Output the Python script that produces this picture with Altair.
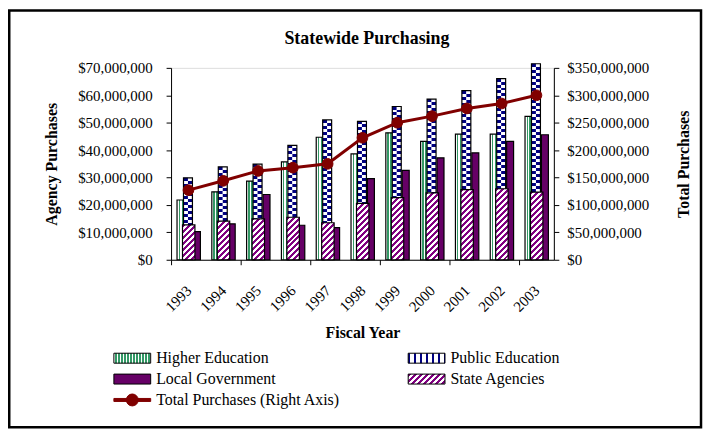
import json
import altair as alt

# ---------------- data (millions of dollars) ----------------
years = [1993, 1994, 1995, 1996, 1997, 1998, 1999, 2000, 2001, 2002, 2003]
higher_education = [21.8, 24.8, 28.7, 35.7, 44.7, 38.6, 46.3, 43.2, 45.8, 45.8, 52.3]
public_education = [29.9, 33.9, 34.9, 41.7, 51.0, 50.5, 55.9, 58.6, 61.7, 66.1, 71.5]
local_government = [10.3, 13.1, 23.8, 12.6, 11.7, 29.6, 32.6, 37.2, 39.0, 43.2, 45.6]
state_agencies = [12.7, 14.1, 14.9, 15.5, 13.5, 20.6, 22.7, 24.4, 25.6, 25.9, 24.7]
total_purchases = [127, 144, 162, 168, 175, 222.5, 250, 262, 276, 285, 300]
left_ticks = [0, 10, 20, 30, 40, 50, 60, 70]
right_ticks = [0, 50, 100, 150, 200, 250, 300, 350]
bar_series = ["Higher Education", "Public Education", "Local Government", "State Agencies"]
line_series = "Total Purchases (Right Axis)"

M = 1e6
FONT = "Liberation Serif"
W, H = 385, 193
GREEN, NAVY, PURPLE, HATCH, LINE = "#339966", "#000080", "#660066", "#800080", "#800000"


# ---------------- pattern helpers (linear gradients with hard stops) ----------------
def stripe_stops(length, pattern):
    stops, pos, i = [], 0.0, 0
    while pos < length - 1e-9:
        color, seg = pattern[i % len(pattern)]
        end = min(pos + seg, length)
        stops.append({"offset": round(pos / length, 5), "color": color})
        stops.append({"offset": round(end / length, 5), "color": color})
        pos, i = end, i + 1
    return stops


def linear(x1, y1, x2, y2, stops):
    return {"gradient": "linear", "x1": x1, "y1": y1, "x2": x2, "y2": y2, "stops": stops}


def vstripes(w, pattern):
    return linear(0, 0.5, 1, 0.5, stripe_stops(w, pattern))


def hstripes(h, pattern):
    return linear(0.5, 0, 0.5, 1, stripe_stops(h, pattern))


def diag(w, h, pattern):
    k = w * (w + h) / (w * w + h * h)
    return linear(0, 0, round(k, 5), round(k * h / w, 5), stripe_stops(w + h, pattern))


def px_h(v):
    return max(v / 70 * H, 1)


def gexpr(g):
    return {"expr": json.dumps(g)}


GREEN_PAT = [("white", 1.5), (GREEN, 1.5)]
HATCH_PAT = [(HATCH, 3), ("white", 3)]

bar_rows = []
for i, yr in enumerate(years):
    bar_rows.append({"year": yr, "series": "Higher Education", "value": higher_education[i] * M,
                     "pa": vstripes(8, GREEN_PAT)})
    h = px_h(public_education[i])
    bar_rows.append({"year": yr, "series": "Public Education", "value": public_education[i] * M,
                     "pa": hstripes(h, [(NAVY, 3), ("white", 3)]),
                     "pb": hstripes(h, [("white", 3), (NAVY, 3)])})
    bar_rows.append({"year": yr, "series": "Local Government", "value": local_government[i] * M})
    h = px_h(state_agencies[i])
    bar_rows.append({"year": yr, "series": "State Agencies", "value": state_agencies[i] * M,
                     "pa": diag(12.5, h, HATCH_PAT)})

line_rows = [{"year": yr, "series": line_series, "total": total_purchases[i] * M}
             for i, yr in enumerate(years)]

# ---------------- legends ----------------
LW, LH = 37, 10
color_range = [
    gexpr(vstripes(LW, GREEN_PAT)),
    gexpr(vstripes(LW, [(NAVY, 2), ("white", 4)])),
    PURPLE,
    gexpr(diag(LW, LH, HATCH_PAT)),
]
rect_path = "M-3.7,-1H3.7V1H-3.7Z"
line_path = "M-3.7,-0.3H3.7V0.3H-3.7Z M1.2,0A1.2,1.2 0 1,1 -1.2,0A1.2,1.2 0 1,1 1.2,0Z"

common_legend = dict(
    title=None, orient="none", legendX=-60,
    symbolSize=100, symbolStrokeWidth=1, symbolOffset=13, labelOffset=16,
    labelFont=FONT, labelFontSize=16, labelColor="black", symbolOpacity=1, labelLimit=400,
)
bar_legend = alt.Legend(legendY=284, columns=2, direction="horizontal", columnPadding=130,
                        rowPadding=5, symbolType=rect_path, symbolStrokeColor="black",
                        **common_legend)
line_legend = alt.Legend(legendY=326, symbolType=line_path, symbolFillColor=LINE,
                         symbolStrokeColor=LINE, **common_legend)

# ---------------- axes / encodings ----------------
xaxis = alt.Axis(
    title="Fiscal Year", labelAngle=-45, labelAlign="right", labelBaseline="middle",
    labelPadding=23, tickBand="extent", tickSize=5,
    tickColor={"condition": {"test": "datum.extra || toNumber(datum.value) % 2 == 0", "value": "black"},
               "value": "transparent"},
    domainColor="black", labelFont=FONT, labelFontSize=15, labelColor="black",
    titleFont=FONT, titleFontSize=16, titleFontWeight="bold", titleColor="black",
    titleY=73, titleBaseline="middle", labelOverlap=False,
)
yaxis = alt.Axis(
    title="Agency Purchases", orient="left", values=[v * M for v in left_ticks], format="$,d",
    tickSize=5, labelPadding=14, grid=False, domainColor="black", tickColor="black",
    labelFont=FONT, labelFontSize=15, labelColor="black",
    titleFont=FONT, titleFontSize=16, titleFontWeight="bold", titleColor="black",
    titleX=-120, titleY=96.5, titleBaseline="middle", titleAngle=-90,
)
raxis = alt.Axis(
    title="Total Purchases", orient="right", values=[v * M for v in right_ticks], format="$,d",
    tickSize=5, labelPadding=8, grid=False, domainColor="black", tickColor="black",
    labelFont=FONT, labelFontSize=15, labelColor="black",
    titleFont=FONT, titleFontSize=16, titleFontWeight="bold", titleColor="black",
    titleX=130, titleY=96.5, titleBaseline="middle", titleAngle=-90,
)

X = alt.X("year:O", scale=alt.Scale(paddingInner=0, paddingOuter=0), axis=xaxis)
Y = alt.Y("value:Q", stack=None, scale=alt.Scale(domain=[0, 70 * M], nice=False), axis=yaxis)
Y2 = alt.Y("total:Q", scale=alt.Scale(domain=[0, 350 * M], nice=False), axis=raxis)
C = alt.Color("series:N", scale=alt.Scale(domain=bar_series, range=color_range), legend=bar_legend)

bars = alt.Chart(alt.Data(values=bar_rows))


def bar_layer(series, width, offset, fill_field=None, with_color=False, **kw):
    enc = dict(x=X, y=Y)
    if with_color:
        enc["color"] = C
    if fill_field:
        enc["fill"] = alt.Fill(f"{fill_field}:N", scale=None, legend=None)
    return (bars.transform_filter(alt.datum.series == series)
            .mark_bar(width=width, xOffset=offset, **kw).encode(**enc))


green = bar_layer("Higher Education", 8, -7.5, "pa", stroke="black", strokeWidth=1.2)
pub_l = bar_layer("Public Education", 4.5, -2.75, "pa")
pub_r = bar_layer("Public Education", 4.5, 1.75, "pb")
pub_o = bar_layer("Public Education", 9, -0.5, None,
                  fill="transparent", stroke="black", strokeWidth=1.2)
local = bar_layer("Local Government", 7, 8.5, None, with_color=True, stroke="black", strokeWidth=1.2)
state = bar_layer("State Agencies", 12.5, 0.25, "pa", stroke="black", strokeWidth=1.2)

lines = alt.Chart(alt.Data(values=line_rows))
line = lines.mark_line(strokeWidth=3, color=LINE).encode(x=X, y=Y2)
points = lines.mark_point(filled=True, size=115, opacity=1, color=LINE, strokeWidth=1).encode(
    x=X, y=Y2,
    stroke=alt.Stroke("series:N", scale=alt.Scale(domain=[line_series], range=[LINE]),
                      legend=line_legend),
)

frame = alt.Chart(alt.Data(values=[{"k": 0}])).mark_rect(
    filled=False, stroke="black", strokeWidth=2.5
).encode(x=alt.value(-162.75), x2=alt.value(533), y=alt.value(-57.75), y2=alt.value(361.5))

chart = alt.layer(
    frame,
    alt.layer(green, pub_l, pub_r, pub_o, local, state),
    alt.layer(line, points),
).resolve_scale(y="independent").properties(
    width=W, height=H, padding=0,
    title=alt.TitleParams(text="Statewide Purchasing", font=FONT, fontSize=18, fontWeight="bold",
                          color="black", anchor="middle", frame="group", baseline="alphabetic",
                          offset=0, dy=53, dx=4.5),
).configure_view(stroke="#808080", strokeWidth=1).configure(background="white")

chart.save("out.html", embed_options={"renderer": "svg", "actions": False})
